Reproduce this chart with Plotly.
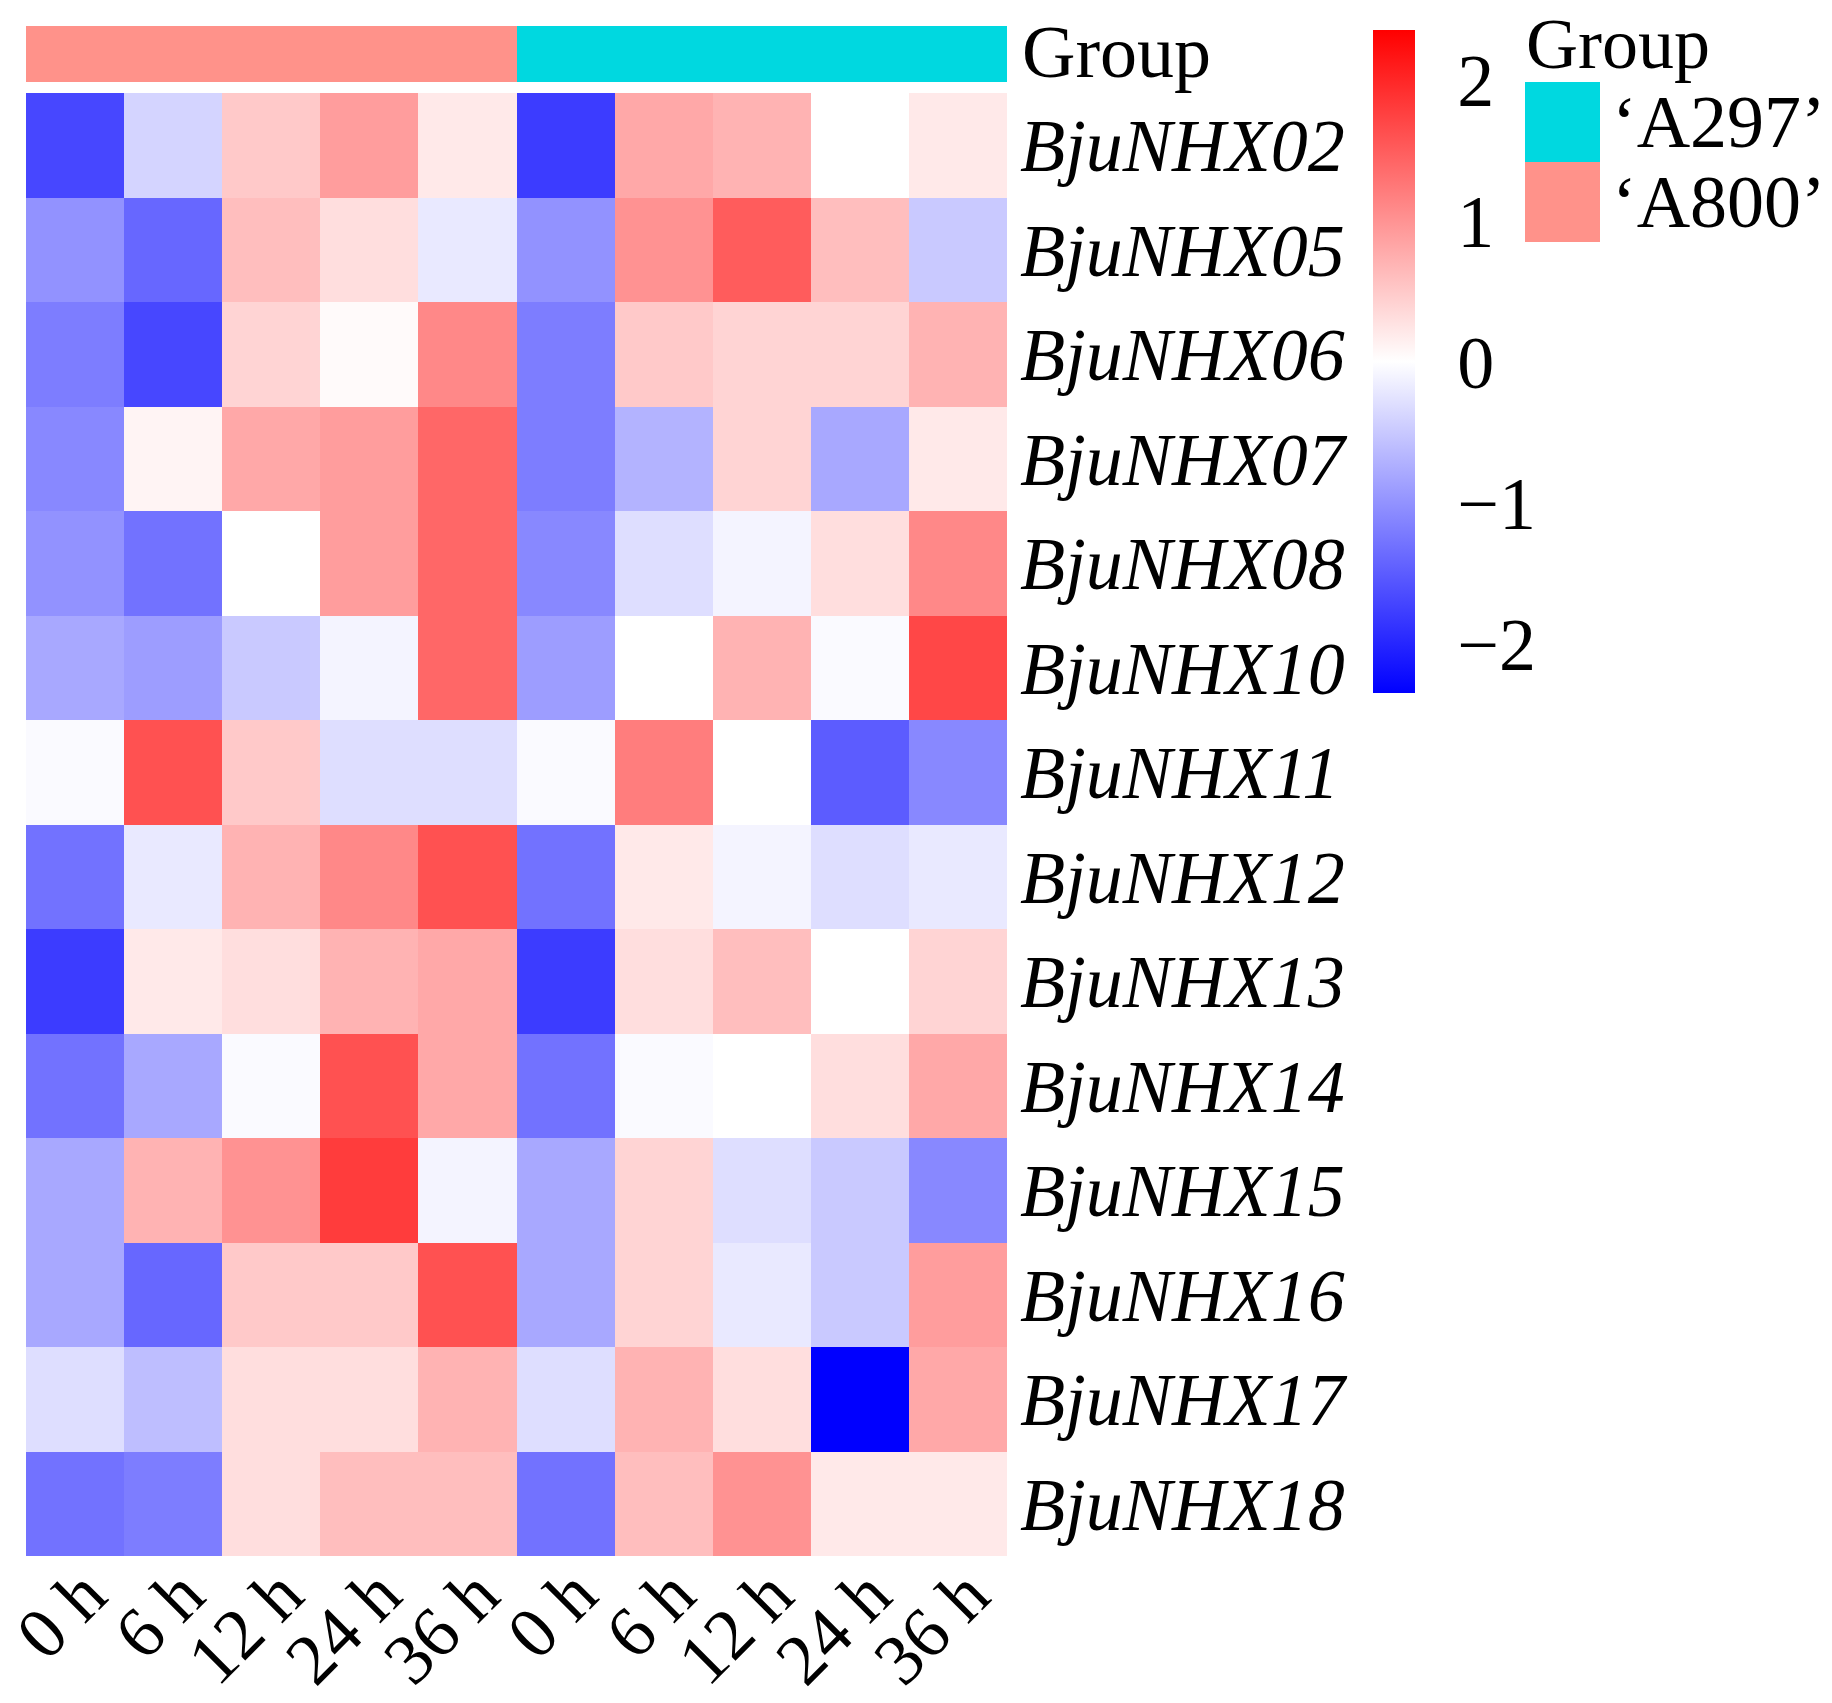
import plotly.graph_objects as go

genes = ["BjuNHX02","BjuNHX05","BjuNHX06","BjuNHX07","BjuNHX08","BjuNHX10","BjuNHX11",
         "BjuNHX12","BjuNHX13","BjuNHX14","BjuNHX15","BjuNHX16","BjuNHX17","BjuNHX18"]
times = ["0 h","6 h","12 h","24 h","36 h","0 h","6 h","12 h","24 h","36 h"]
groups = ["‘A800’"]*5 + ["‘A297’"]*5
values = [
 [-1.7,-0.4,0.5,0.9,0.2,-1.8,0.8,0.7,0.0,0.2],
 [-1.0,-1.4,0.6,0.3,-0.2,-1.0,1.0,1.5,0.6,-0.5],
 [-1.2,-1.7,0.4,0.05,1.1,-1.2,0.5,0.4,0.4,0.7],
 [-1.1,0.1,0.8,0.9,1.4,-1.2,-0.7,0.4,-0.8,0.2],
 [-1.0,-1.3,0.0,0.9,1.4,-1.1,-0.3,-0.1,0.3,1.1],
 [-0.8,-0.9,-0.5,-0.1,1.4,-0.9,0.0,0.7,-0.05,1.7],
 [-0.05,1.6,0.5,-0.3,-0.3,-0.05,1.2,0.0,-1.5,-1.1],
 [-1.3,-0.2,0.7,1.1,1.6,-1.3,0.2,-0.1,-0.3,-0.2],
 [-1.8,0.2,0.3,0.7,0.8,-1.8,0.3,0.6,0.0,0.4],
 [-1.3,-0.8,-0.05,1.6,0.8,-1.3,-0.05,0.0,0.3,0.8],
 [-0.8,0.7,1.0,1.8,-0.1,-0.8,0.4,-0.3,-0.5,-1.1],
 [-0.8,-1.4,0.5,0.5,1.6,-0.8,0.4,-0.2,-0.5,0.9],
 [-0.3,-0.6,0.3,0.3,0.7,-0.3,0.7,0.3,-2.35,0.8],
 [-1.3,-1.2,0.3,0.6,0.6,-1.3,0.6,1.0,0.2,0.2],
]
group_colors = {"‘A297’": "#00D8E0", "‘A800’": "#FF928A"}

W, H = 1832, 1703
OFF = 8
px = lambda v: (v - OFF) / W
py = lambda v: 1 - (v - OFF) / H
font = "Liberation Serif"
cols = list(range(len(times)))

fig = go.Figure()
fig.add_trace(go.Heatmap(
    z=values, x=cols, y=list(range(len(genes))), zmin=-2.35, zmax=2.35,
    colorscale=[[0, "#0000FF"], [0.5, "#FFFFFF"], [1, "#FF0000"]],
    xgap=0, ygap=0,
    colorbar=dict(x=px(1373), xanchor="left", y=py(362), yanchor="middle",
                  len=683, lenmode="pixels", thickness=42, thicknessmode="pixels",
                  outlinewidth=0, ticks="outside", ticklen=28, tickcolor="white",
                  tickvals=[-2, -1, 0, 1, 2], xpad=0,
                  tickfont=dict(family=font, size=74, color="black")),
    xaxis="x", yaxis="y"))
gz = [[0 if g == "‘A800’" else 1 for g in groups]]
fig.add_trace(go.Heatmap(
    z=gz, x=cols, y=[0], zmin=0, zmax=1, showscale=False,
    colorscale=[[0, group_colors["‘A800’"]], [1, group_colors["‘A297’"]]],
    xaxis="x2", yaxis="y2", hoverinfo="skip"))

fig.update_layout(
    width=W, height=H, margin=dict(l=0, r=0, t=0, b=0, autoexpand=False),
    paper_bgcolor="white", plot_bgcolor="white", showlegend=False,
    xaxis=dict(domain=[px(26), px(1007)], showticklabels=False, showgrid=False,
               zeroline=False, ticks="", range=[-0.5, 9.5], automargin=False),
    yaxis=dict(domain=[py(1556), py(93)], tickvals=list(range(len(genes))),
               ticktext=[f"<i>{g}</i>" for g in genes], autorange="reversed", side="right",
               tickfont=dict(family=font, size=74, color="black"), showgrid=False,
               zeroline=False, ticks="", ticklabelstandoff=12, automargin=False),
    xaxis2=dict(domain=[px(26), px(1007)], anchor="y2", visible=False, range=[-0.5, 9.5]),
    yaxis2=dict(domain=[py(82), py(26)], anchor="x2", visible=False),
)
for c, t in zip(cols, times):
    fig.add_annotation(x=c + 0.5, y=py(1551), xref="x", yref="paper", text=t,
                       textangle=-45, showarrow=False, xanchor="right", yanchor="top",
                       font=dict(family=font, size=72, color="black"))
fig.add_annotation(x=px(1020), y=py(52), xref="paper", yref="paper", text="Group",
                   showarrow=False, xanchor="left", yanchor="middle",
                   font=dict(family=font, size=74, color="black"))
fig.add_annotation(x=px(1524), y=py(44), xref="paper", yref="paper", text="Group",
                   showarrow=False, xanchor="left", yanchor="middle",
                   font=dict(family=font, size=72, color="black"))
for i, g in enumerate(["‘A297’", "‘A800’"]):
    y0 = 82 + i * 80
    fig.add_shape(type="rect", xref="paper", yref="paper", x0=px(1525), x1=px(1600),
                  y0=py(y0 + 80), y1=py(y0), fillcolor=group_colors[g], line_width=0)
    fig.add_annotation(x=px(1610), y=py(y0 + 40), xref="paper", yref="paper", text=g,
                       showarrow=False, xanchor="left", yanchor="middle",
                       font=dict(family=font, size=74, color="black"))
fig.write_html("out.html")
